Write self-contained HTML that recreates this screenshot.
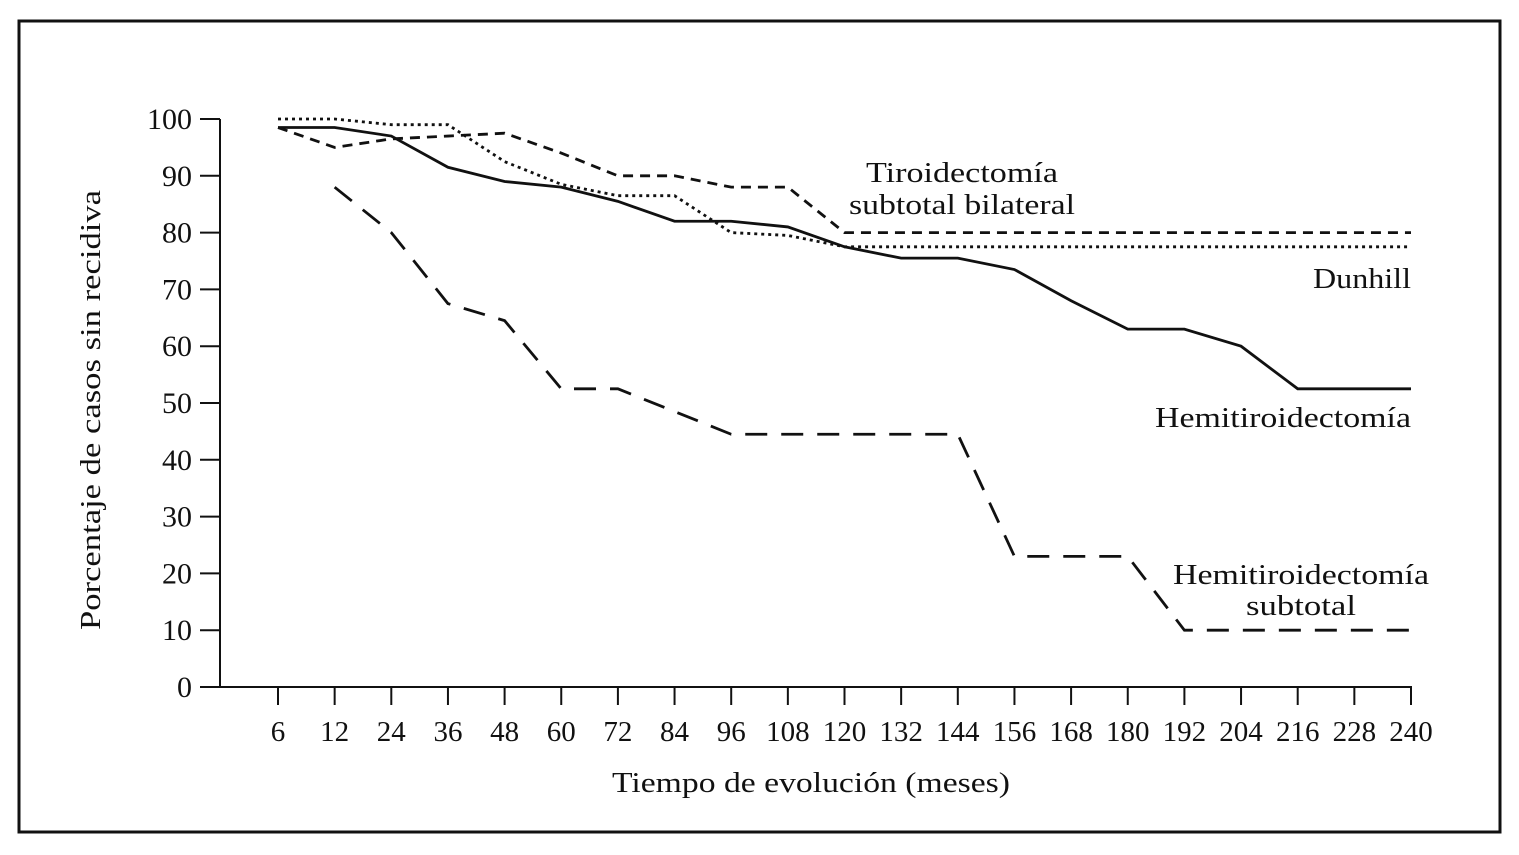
<!DOCTYPE html>
<html><head><meta charset="utf-8"><style>
body{margin:0;background:#fff;}
svg text{font-family:"Liberation Serif",serif;fill:#111;}
</style></head><body>
<svg width="1519" height="850">
<rect x="19" y="21" width="1481" height="811" fill="none" stroke="#111" stroke-width="3"/>
<g id="axes"></g><g id="series"></g>
<text x="811" y="792" font-size="29" text-anchor="middle" textLength="398" lengthAdjust="spacingAndGlyphs">Tiempo de evolución (meses)</text>
<text transform="translate(100,410) rotate(-90)" font-size="29" text-anchor="middle" textLength="440" lengthAdjust="spacingAndGlyphs">Porcentaje de casos sin recidiva</text>
<text x="962" y="182" font-size="29" text-anchor="middle" textLength="192" lengthAdjust="spacingAndGlyphs">Tiroidectomía</text>
<text x="962" y="214" font-size="29" text-anchor="middle" textLength="226" lengthAdjust="spacingAndGlyphs">subtotal bilateral</text>
<text x="1411" y="288" font-size="29" text-anchor="end" textLength="98" lengthAdjust="spacingAndGlyphs">Dunhill</text>
<text x="1411" y="427" font-size="29" text-anchor="end" textLength="256" lengthAdjust="spacingAndGlyphs">Hemitiroidectomía</text>
<text x="1301" y="584" font-size="29" text-anchor="middle" textLength="256" lengthAdjust="spacingAndGlyphs">Hemitiroidectomía</text>
<text x="1301" y="615" font-size="29" text-anchor="middle" textLength="110" lengthAdjust="spacingAndGlyphs">subtotal</text>
</svg>
<script>
const categories=[6,12,24,36,48,60,72,84,96,108,120,132,144,156,168,180,192,204,216,228,240];
const yTicks=[0,10,20,30,40,50,60,70,80,90,100];
const hemi=[98.5,98.5,97,91.5,89,88,85.5,82,82,81,77.5,75.5,75.5,73.5,68,63,63,60,52.5,52.5,52.5];
const dunhill=[100,100,99,99,92.5,88.5,86.5,86.5,80,79.5,77.5,77.5,77.5,77.5,77.5,77.5,77.5,77.5,77.5,77.5,77.5];
const bilateral=[98.5,95,96.5,97,97.5,94,90,90,88,88,80,80,80,80,80,80,80,80,80,80,80];
const hemiSub=[null,88,80,67.5,64.5,52.5,52.5,48.5,44.5,44.5,44.5,44.5,44.5,23,23,23,10,10,10,10,10];
const NS="http://www.w3.org/2000/svg";
const xPos=i=>278+i*(1411-278)/(categories.length-1);
const yPos=v=>687-v*(687-119)/100;
const ax=document.getElementById('axes'),se=document.getElementById('series');
function mk(t,a,p){const e=document.createElementNS(NS,t);for(const k in a)e.setAttribute(k,a[k]);p.appendChild(e);return e;}
let l=mk('line',{x1:220,y1:119,x2:220,y2:688,stroke:'#111','stroke-width':2},ax);


l=mk('line',{x1:200,y1:687,x2:1412,y2:687,stroke:'#111','stroke-width':2},ax);


yTicks.forEach(v=>{const y=yPos(v);
 const t=mk('line',{x1:200,y1:y,x2:220,y2:y,stroke:'#111','stroke-width':2},ax);
 
 
 const tx=mk('text',{x:192,y:y+10,'font-size':30,'text-anchor':'end'},ax);tx.textContent=v;
 
 });
categories.forEach((c,i)=>{const x=xPos(i);
 const t=mk('line',{x1:x,y1:687,x2:x,y2:705,stroke:'#111','stroke-width':2},ax);
 
 
 const tx=mk('text',{x:x,y:741,'font-size':29,'text-anchor':'middle'},ax);tx.textContent=c;
 
 });
function line(vals,dash,name){const pts=[];vals.forEach((v,i)=>{if(v!==null)pts.push(xPos(i)+','+yPos(v));});
 const p=mk('polyline',{points:pts.join(' '),fill:'none',stroke:'#111','stroke-width':2.8,'stroke-dasharray':dash},se);
 
 }
line(hemi,'none','line-hemitiroidectomia');
line(dunhill,'3,4','line-dunhill');
line(bilateral,'10,7','line-subtotal-bilateral');
line(hemiSub,'22,14','line-hemitiroidectomia-subtotal');
</script>
</body></html>
